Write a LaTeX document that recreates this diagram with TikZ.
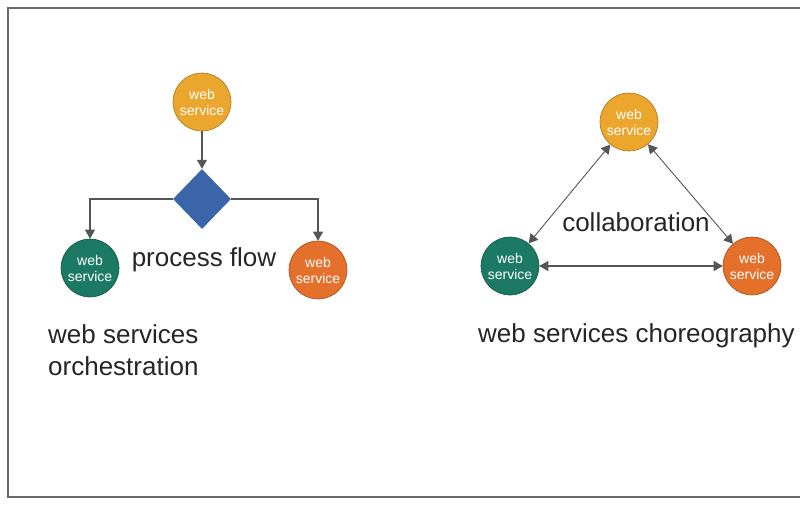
\documentclass[tikz,border=0pt]{standalone}
\usepackage{fontspec}
\setmainfont{Liberation Sans}
\usetikzlibrary{shapes.geometric,arrows.meta}
\definecolor{wsyellow}{HTML}{EBA62E}
\definecolor{wsgreen}{HTML}{1C7A64}
\definecolor{wsorange}{HTML}{E4702C}
\definecolor{wsblue}{HTML}{3A66A9}
\definecolor{framegray}{HTML}{6A6A6A}
\definecolor{linegray}{HTML}{555555}
\tikzset{
  ws/.style={circle, minimum size=58pt, inner sep=0pt, draw=#1!70!black, line width=0.6pt, fill=#1,
    text=white, align=center, font=\fontsize{14}{16}\selectfont},
  conn/.style={draw=linegray, line width=1.1pt, -{Triangle[length=9pt,width=10pt]}},
  dconn/.style={draw=linegray, line width=0.9pt, {Triangle[length=9pt,width=10pt]}-{Triangle[length=9pt,width=10pt]}},
  label/.style={font=\fontsize{26}{32}\selectfont, text=black!85, inner sep=0pt},
}
\begin{document}
\begin{tikzpicture}[x=1pt,y=-1pt]
\useasboundingbox (0,0) rectangle (800,507);
\fill[white] (0,0) rectangle (800,507);
\draw[framegray, line width=2.5pt] (801,8) -- (8,8) -- (8,497) -- (801,497);

% orchestration
\node[ws=wsyellow] (o1) at (202,102) {web\\service};
\node[diamond, fill=wsblue, inner sep=0pt, minimum width=58pt, minimum height=60pt] (d) at (202,199) {};
\node[ws=wsgreen] (o2) at (90,268) {web\\service};
\node[ws=wsorange] (o3) at (318,270) {web\\service};
\draw[conn] (o1.south) -- (d.north);
\draw[conn] (d.west) -| (o2.north);
\draw[conn] (d.east) -| (o3.north);
\node[label, anchor=base] (pf) at (204,266) {process flow};
\node[label, anchor=base west, align=left] (orch) at (48,375) {web services\\orchestration};

% choreography
\node[ws=wsyellow] (c1) at (629,122) {web\\service};
\node[ws=wsgreen] (c2) at (510,266) {web\\service};
\node[ws=wsorange] (c3) at (752,266) {web\\service};
\draw[dconn] (c1) -- (c2);
\draw[dconn] (c1) -- (c3);
\draw[dconn, line width=1.1pt] (c2) -- (c3);
\node[label, anchor=base] (col) at (636,231) {collaboration};
\node[label, anchor=base west] (chor) at (478,342) {web services choreography};
\end{tikzpicture}
\end{document}
